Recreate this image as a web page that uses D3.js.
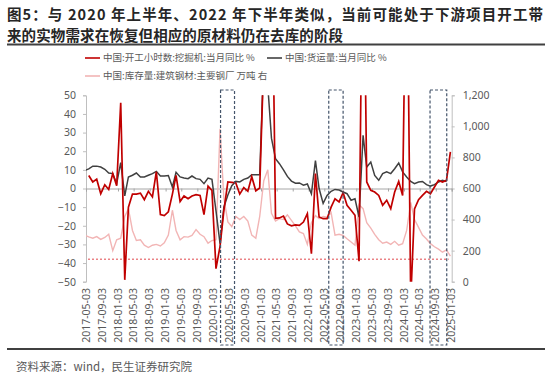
<!DOCTYPE html>
<html><head><meta charset="utf-8">
<script src="https://cdn.jsdelivr.net/npm/d3@7"></script>
<style>body{margin:0;background:#fff} text{font-family:"Noto Sans CJK SC","Noto Sans",sans-serif}</style>
</head><body><svg id="c" width="550" height="374"></svg>
<script>
const titleLines = ["图5：与 2020 年上半年、2022 年下半年类似，当前可能处于下游项目开工带", "来的实物需求在恢复但相应的原材料仍在去库的阶段"];
const sourceText = "资料来源：wind，民生证券研究院";
const seriesNames = ["中国:开工小时数:挖掘机:当月同比 %", "中国:货运量:当月同比 %", "中国:库存量:建筑钢材:主要钢厂 万吨 右"];
const tickLabels = ["2017-05-03","2017-09-03","2018-01-03","2018-05-03","2018-09-03","2019-01-03","2019-05-03","2019-09-03","2020-01-03","2020-05-03","2020-09-03","2021-01-03","2021-05-03","2021-09-03","2022-01-03","2022-05-03","2022-09-03","2023-01-03","2023-05-03","2023-09-03","2024-01-03","2024-05-03","2024-09-03","2025-01-03"];
const leftTicks = [50,40,30,20,10,0,-10,-20,-30,-40,-50];
const rightTicks = [0,200,400,600,800,1000,1200];

// monthly series (first month given, one value per month)
const excavatorStart = "2017-05";
const excavator = [7,3.5,5,-2.8,2,-0.5,8,1.5,46,-49,-10,-3,-3,-2.5,-6,-1.5,-4.5,9,-14,-14.5,-12.5,-3,7,-7,-4,-5.5,-4,-3.3,-3.7,-14,1.3,-1,-43,-31,-12,3.5,3.3,3,-3,0.5,-1.5,6.3,-1.2,0.3,70,200,150,-16,-15.8,-14.8,-19,-20,-19.5,-19.8,-18,-13.5,-35,8,-15.3,-16.2,-16.2,-10,-5.5,-7.2,-2.2,-9,-11.7,-14.4,-39,160,3.5,-1,-1.9,-3.7,-9,-6.3,-10.8,-1.9,3.8,-3.7,150,-60,-11,-6,-3.7,-1.5,-2.8,0.8,4.4,3.5,4.4,19.6];
const freightStart = "2017-04";
const freight = [9.7,10.5,12,12,11.5,10.3,8.3,8,2.6,13.9,-4,6.2,7.1,8.3,6.2,6.2,7.1,8,9.2,6.7,6.7,7,0.8,8.7,6.2,5.6,5.3,6.7,5.3,4.9,2.6,5.6,4.9,-12,-29.6,-10,-3.5,1.5,3.8,3.5,4.9,5.6,7.4,7.4,7.4,70,55,27,16,13.3,10,6.5,4,2.8,3,1.8,2.4,-2.8,15,0,-8,-3.7,-1.5,-0.5,-0.8,-1.9,-2.8,-6.3,-5.5,-15.3,28.5,11.5,14.2,7,4.4,8,8.9,8,10.6,13.7,8.9,6.2,3.8,2.6,3.5,3.8,2.1,1.3,2.1,3.5,4.4,3.8];
const stockStart = "2017-04";
const stock = [300,288,280,290,272,285,305,200,270,280,420,470,330,265,270,235,220,235,240,230,250,300,460,330,270,290,287,298,335,305,290,248,265,270,985,540,385,355,420,400,420,390,300,280,420,650,720,440,390,406,400,430,395,360,320,310,240,380,425,406,420,415,445,300,305,298,276,256,235,495,470,380,345,305,270,248,255,240,260,235,245,330,510,400,350,300,275,245,225,210,190,205,165];
const stockReference = 145;
const highlightPeriods = [["2020-02-28","2020-06-14"],["2022-06-06","2022-09-24"],["2024-07-21","2024-11-26"]];

const pointDay = 24; // monthly values plotted near month end
const parseDay = d3.timeParse("%Y-%m-%d");
function monthDates(start, n){
  const [y,m] = start.split("-").map(Number);
  return d3.range(n).map(i => new Date(y, m-1+i, pointDay));
}
const svg = d3.select("#c");
const plot = {left:86, right:451.7, top:95.3, bottom:281.7};

const x = d3.scaleTime().domain([parseDay(tickLabels[0]), parseDay(tickLabels[tickLabels.length-1])]).range([plot.left, plot.right]);
const yL = d3.scaleLinear().domain([-50,50]).range([plot.bottom, plot.top]);
const yR = d3.scaleLinear().domain([0,1200]).range([plot.bottom, plot.top]);

const grey = "#595959";
// title (two lines)
svg.append("text").attr("x",7).attr("y",19.8).attr("font-size",14.5).attr("font-weight","bold").attr("fill","#262626")
  .attr("textLength",536).attr("lengthAdjust","spacing").text(titleLines[0]);
svg.append("text").attr("x",7).attr("y",41).attr("font-size",14.5).attr("font-weight","bold").attr("fill","#262626")
  .attr("textLength",336).attr("lengthAdjust","spacing").text(titleLines[1]);
svg.append("line").attr("x1",7).attr("x2",545).attr("y1",44.5).attr("y2",44.5).attr("stroke","#404040").attr("stroke-width",1.8);
svg.append("line").attr("x1",7).attr("x2",545).attr("y1",349).attr("y2",349).attr("stroke","#404040").attr("stroke-width",1.8);
svg.append("text").attr("x",16).attr("y",371).attr("font-size",11.5).attr("fill",grey).text(sourceText);

// legend
const colors = ["#c00000","#404040","#f2b5b5"];
const legendPos = [[85,58],[267,58],[85,76]];
seriesNames.forEach((n,i)=>{
  const [lx,ly] = legendPos[i];
  svg.append("line").attr("x1",lx).attr("x2",lx+15).attr("y1",ly).attr("y2",ly).attr("stroke",colors[i]).attr("stroke-width",1.6);
  svg.append("text").attr("x",lx+18).attr("y",ly+3.3).attr("font-size",9.5).attr("fill",grey).text(n);
});

// axes
const axisColor = "#bfbfbf";
const gl = svg.append("g").attr("transform",`translate(${plot.left},0)`)
  .call(d3.axisLeft(yL).tickValues(leftTicks).tickSize(3).tickPadding(7));
const gr = svg.append("g").attr("transform",`translate(${plot.right},0)`)
  .call(d3.axisRight(yR).tickValues(rightTicks).tickSize(3).tickPadding(8).tickFormat(d3.format(",")));
[gl,gr].forEach(g=>{
  g.select(".domain").attr("stroke",axisColor);
  g.selectAll(".tick line").attr("stroke",axisColor);
  g.selectAll("text").attr("fill",grey).attr("font-size",10.5).style("font-family","'Noto Sans','Open Sans',sans-serif");
});

// zero line (category axis) with ticks
const gx = svg.append("g").attr("transform",`translate(0,${yL(0)})`)
  .call(d3.axisBottom(x).tickValues(tickLabels.map(parseDay)).tickSize(3).tickFormat(""));
gx.select(".domain").attr("stroke","#a6a6a6");
gx.selectAll(".tick line").attr("stroke","#a6a6a6");
// tick labels at the bottom, rotated
svg.append("g").selectAll("text").data(tickLabels).join("text")
  .attr("transform",d=>`translate(${x(parseDay(d))},288) rotate(-90)`)
  .attr("text-anchor","end").attr("dy","0.35em").attr("font-size",10.5).attr("fill",grey)
  .style("font-family","'Noto Sans','Open Sans',sans-serif").text(d=>d);

// clip
svg.append("clipPath").attr("id","clip").append("rect")
  .attr("x",plot.left).attr("y",plot.top).attr("width",plot.right-plot.left).attr("height",plot.bottom-plot.top);
const g = svg.append("g").attr("clip-path","url(#clip)");

// reference line
g.append("line").attr("x1",plot.left+2).attr("x2",plot.right-3).attr("y1",yR(stockReference)).attr("y2",yR(stockReference))
  .attr("stroke","#e0474c").attr("stroke-width",1).attr("stroke-dasharray","2,2");

const sD = monthDates(stockStart, stock.length);
const fD = monthDates(freightStart, freight.length);
const eD = monthDates(excavatorStart, excavator.length);
g.append("path").attr("fill","none").attr("stroke",colors[2]).attr("stroke-width",1.4)
  .attr("d", d3.line().x((d,i)=>x(sD[i])).y(d=>yR(d))(stock));
g.append("path").attr("fill","none").attr("stroke",colors[1]).attr("stroke-width",1.5)
  .attr("d", d3.line().x((d,i)=>x(fD[i])).y(d=>yL(d))(freight));
g.append("path").attr("fill","none").attr("stroke",colors[0]).attr("stroke-width",1.7)
  .attr("d", d3.line().x((d,i)=>x(eD[i])).y(d=>yL(d))(excavator));

// highlight boxes
svg.append("g").selectAll("rect").data(highlightPeriods).join("rect")
  .attr("x",d=>x(parseDay(d[0]))).attr("width",d=>x(parseDay(d[1]))-x(parseDay(d[0])))
  .attr("y",90).attr("height",255).attr("fill","none").attr("stroke","#44546a").attr("stroke-width",1.2).attr("stroke-dasharray","3,2");
</script></body></html>
